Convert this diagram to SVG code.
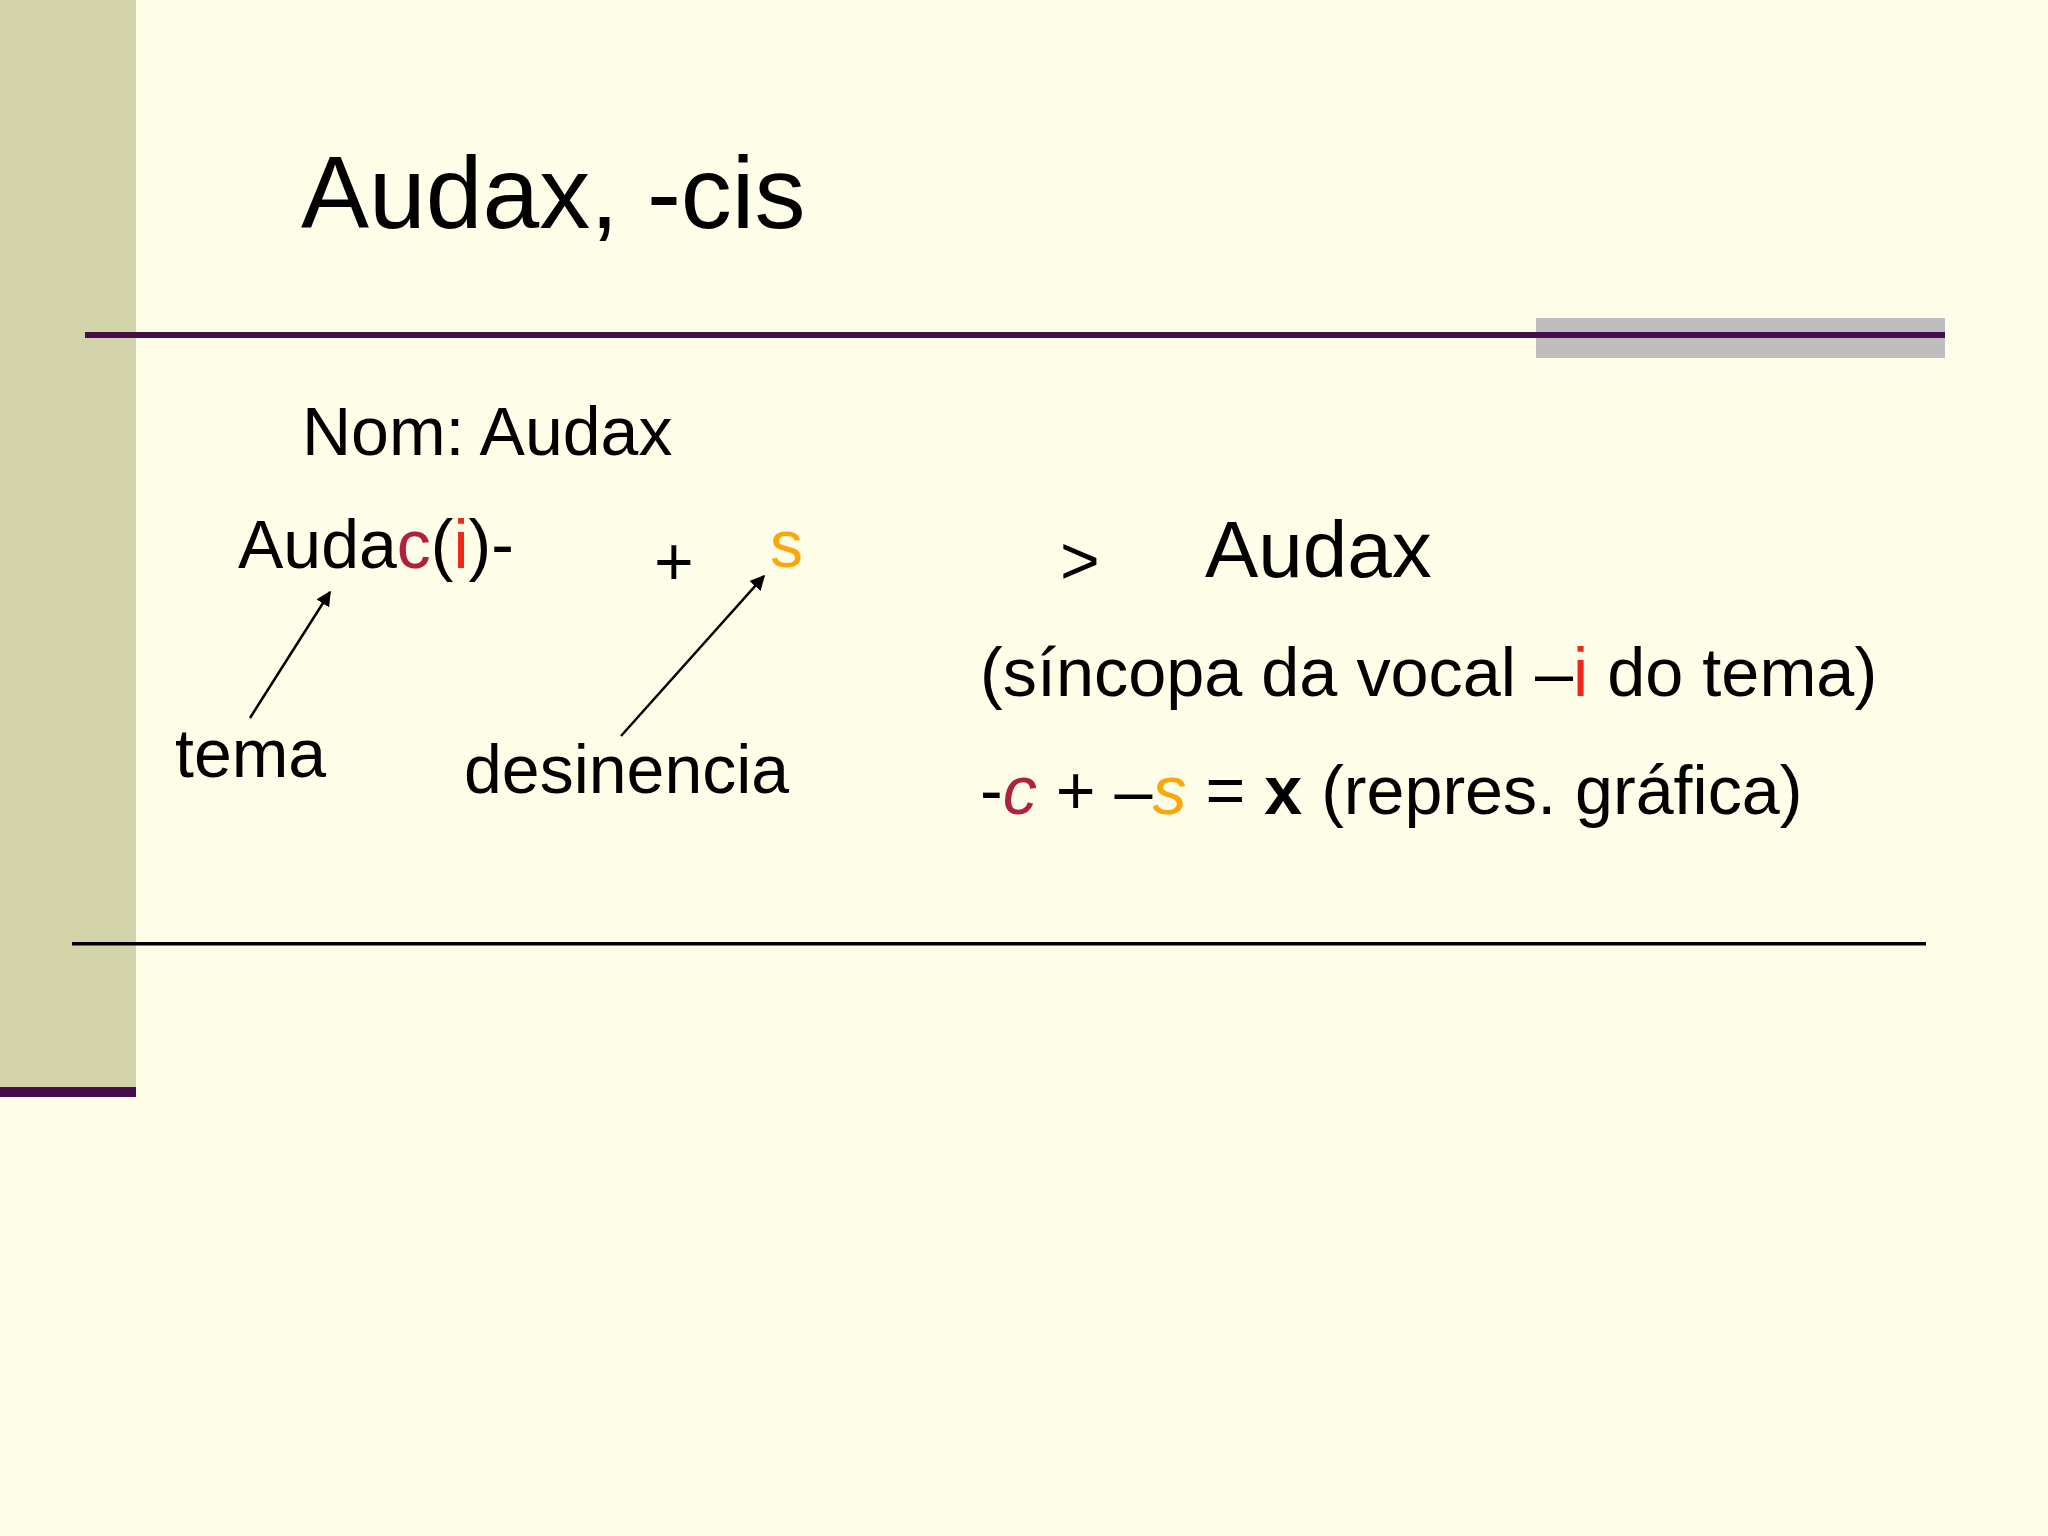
<svg xmlns="http://www.w3.org/2000/svg" width="2048" height="1536" viewBox="0 0 2048 1536">
<style>
  .t { font-family: "Liberation Sans", Arial, sans-serif; fill: #000; }
  .c { fill: #b0203f; }
  .i { fill: #f0281a; }
  .s { fill: #fba70b; }
  .conn { stroke: #000; stroke-width: 2.5; fill: none; marker-end: url(#ah); }
</style>
<defs>
  <marker id="ah" viewBox="0 0 10 10" refX="9" refY="5" markerWidth="6" markerHeight="6" markerUnits="strokeWidth" orient="auto">
    <path d="M0,0 L10,5 L0,10 z" fill="#000"/>
  </marker>
</defs>
<rect x="0" y="0" width="2048" height="1536" fill="#fefee8"/>
<g id="decor">
  <rect x="0" y="0" width="136" height="1088" fill="#d3d3a9"/>
  <rect x="0" y="1087" width="136" height="10" fill="#470e4b"/>
  <rect x="1536" y="318" width="409" height="40" fill="#bebebe"/>
  <rect x="85" y="332" width="1860" height="6" fill="#470e4b"/>
  <rect x="72" y="942" width="1854" height="3.5" fill="#000"/>
</g>
<g id="title"><text class="t" x="301" y="228" font-size="102">Audax, -cis</text></g>
<g id="nom"><text class="t" x="302" y="455" font-size="68">Nom: Audax</text></g>
<g id="stem"><text class="t" x="238" y="568" font-size="68">Auda<tspan class="c">c</tspan>(<tspan class="i">i</tspan>)-</text></g>
<g id="plus"><text class="t" x="654" y="585" font-size="68">+</text></g>
<g id="ending"><text class="t s" x="770" y="567" font-size="66">s</text></g>
<g id="gt"><text class="t" x="1060" y="584" font-size="68">&gt;</text></g>
<g id="result"><text class="t" x="1205" y="577" font-size="80">Audax</text></g>
<g id="tema"><text class="t" x="175" y="777" font-size="68">tema</text></g>
<g id="desinencia"><text class="t" x="464" y="793" font-size="68">desinencia</text></g>
<g id="syncope"><text class="t" x="980" y="696" font-size="68.4">(síncopa da vocal –<tspan class="i">i</tspan> do tema)</text></g>
<g id="graphic"><text class="t" x="980" y="814" font-size="68.2">-<tspan class="c" font-style="italic">c</tspan> + –<tspan class="s" font-style="italic">s</tspan> = <tspan font-weight="bold">x</tspan> (repres. gráfica)</text></g>
<g id="connectors">
  <line class="conn" x1="250" y1="718" x2="330" y2="592"/>
  <line class="conn" x1="621" y1="736" x2="764" y2="576"/>
</g>
</svg>
